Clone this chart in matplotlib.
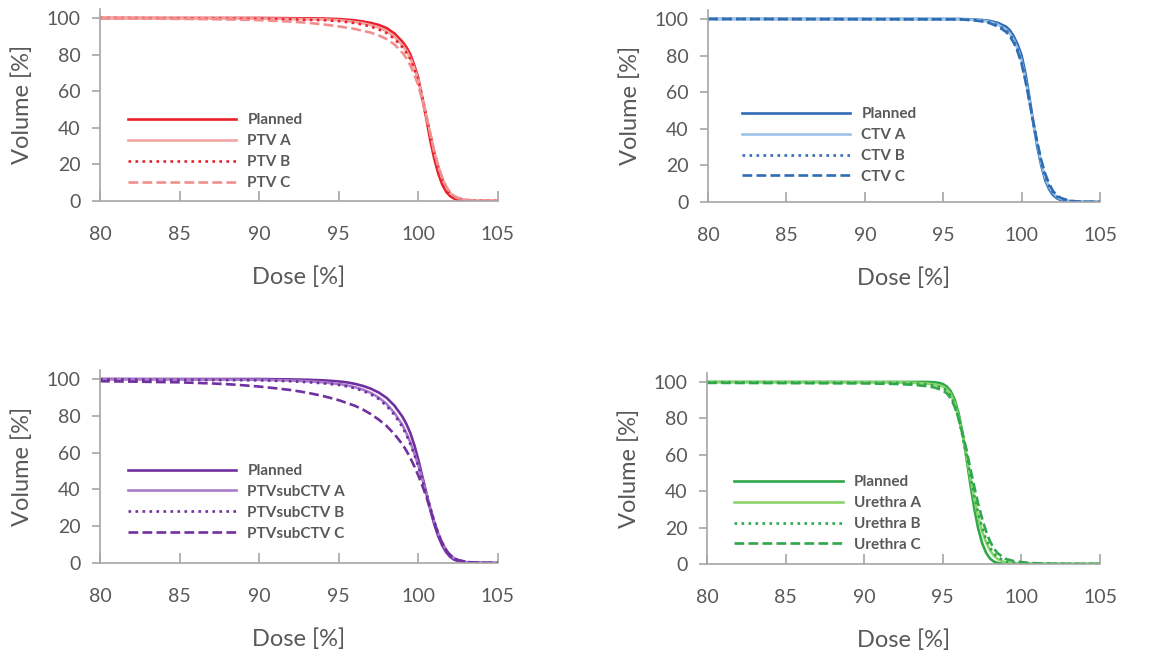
import matplotlib.pyplot as plt

plt.rcParams['font.family'] = ['Lato', 'DejaVu Sans']

# ---------------- datos ----------------
# PTV (arriba izquierda)
ptv_plan_x = [80, 90, 94, 95, 96, 96.5, 97, 97.5, 98, 98.5, 99, 99.25, 99.5, 99.75, 100, 100.25, 100.5,
              100.75, 101, 101.25, 101.5, 101.75, 102, 102.25, 102.5, 102.75, 103, 105]
ptv_plan_y = [100, 100, 99.7, 99.4, 98.7, 98.1, 97.3, 96.2, 94.5, 91.5, 87, 84, 80, 74, 67, 56, 45,
              33, 23, 15, 9, 5, 2.6, 1.3, 0.6, 0.2, 0, 0]
ptv_a_x = [80, 90, 94, 95, 96, 96.5, 97, 97.5, 98, 98.5, 99, 99.25, 99.5, 99.75, 100, 100.25, 100.5,
           100.75, 101, 101.25, 101.5, 101.75, 102, 102.25, 102.5, 103, 103.5, 104, 105]
ptv_a_y = [100, 99.7, 99.2, 98.8, 97.8, 97.1, 96.1, 94.8, 92.8, 89.8, 85, 82, 78, 72.5, 66, 57, 47,
           37, 27, 19, 12.5, 7.5, 4.3, 2.5, 1.5, 0.6, 0.25, 0.1, 0]
ptv_b_x = [80, 90, 94, 95, 96, 96.5, 97, 97.5, 98, 98.5, 99, 99.25, 99.5, 99.75, 100, 100.25, 100.5,
           100.75, 101, 101.25, 101.5, 101.75, 102, 102.25, 102.5, 103, 103.5, 104, 105]
ptv_b_y = [100, 99.5, 98.8, 98.3, 97.2, 96.4, 95.3, 93.8, 91.8, 88.6, 84, 81, 77.5, 72, 65.5, 56.5, 46,
           36, 26, 18, 11.5, 6.8, 3.8, 2.1, 1.2, 0.4, 0.2, 0.1, 0]
ptv_c_x = [80, 85, 88, 90, 92, 93, 94, 95, 96, 97, 97.5, 98, 98.5, 99, 99.25, 99.5, 99.75, 100, 100.25,
           100.5, 100.75, 101, 101.25, 101.5, 101.75, 102, 102.25, 102.5, 103, 103.5, 104, 105]
ptv_c_y = [99.8, 99.5, 99.2, 98.8, 98, 97.4, 96.5, 95.4, 94, 92, 90.5, 88.5, 85.5, 81, 78, 74, 69, 63, 55,
           46, 36.5, 27, 19, 12.5, 7.8, 4.6, 2.7, 1.6, 0.6, 0.25, 0.1, 0]

# CTV (arriba derecha)
ctv_plan_x = [80, 96, 97, 97.5, 98, 98.5, 99, 99.25, 99.5, 99.75, 100, 100.25, 100.5, 100.75, 101,
              101.25, 101.5, 101.75, 102, 102.25, 102.5, 103, 103.5, 105]
ctv_plan_y = [100, 100, 99.7, 99.4, 98.9, 97.8, 95.8, 93.8, 90.5, 86, 80, 70, 57, 43, 30,
              20, 12, 7, 3.8, 2, 1, 0.2, 0, 0]
ctv_a_x = [80, 96, 97, 97.5, 98, 98.5, 99, 99.25, 99.5, 99.75, 100, 100.25, 100.5, 100.75, 101,
           101.25, 101.5, 101.75, 102, 102.25, 102.5, 103, 103.5, 104, 105]
ctv_a_y = [100, 99.9, 99.5, 99.1, 98.3, 96.8, 94.2, 92, 88.5, 83.5, 77, 67, 55, 43, 31.5,
           21.5, 13.5, 8.3, 5, 2.8, 1.6, 0.5, 0.2, 0.1, 0]
ctv_b_x = [80, 96, 97, 97.5, 98, 98.5, 99, 99.25, 99.5, 99.75, 100, 100.25, 100.5, 100.75, 101,
           101.25, 101.5, 101.75, 102, 102.25, 102.5, 103, 103.5, 104, 105]
ctv_b_y = [100, 99.8, 99.4, 98.9, 98, 96.4, 93.8, 91.5, 88, 83, 76.5, 66.5, 55, 43.2, 32,
           22, 14, 8.7, 5.2, 3, 1.7, 0.6, 0.2, 0.1, 0]
ctv_c_x = [80, 96, 97, 97.5, 98, 98.5, 99, 99.25, 99.5, 99.75, 100, 100.25, 100.5, 100.75, 101,
           101.25, 101.5, 101.75, 102, 102.25, 102.5, 103, 103.5, 104, 105]
ctv_c_y = [100, 99.8, 99.2, 98.6, 97.6, 95.8, 93, 90.5, 87, 82, 75.5, 66, 55, 43.5, 32.5,
           23, 15.5, 10, 6, 3.6, 2.2, 0.8, 0.3, 0.1, 0]

# PTVsubCTV (abajo izquierda)
sub_plan_x = [80, 90, 92, 93, 94, 95, 95.5, 96, 96.5, 97, 97.5, 98, 98.5, 99, 99.25, 99.5, 99.75, 100,
              100.25, 100.5, 100.75, 101, 101.25, 101.5, 101.75, 102, 102.25, 102.5, 103, 103.5, 105]
sub_plan_y = [100, 100, 99.8, 99.6, 99.3, 98.7, 98.2, 97.4, 96.3, 94.8, 92.7, 89.8, 85.5, 79.5, 75.5, 70.5, 64, 56,
              47, 38, 29, 21, 14.5, 9.5, 5.8, 3.3, 1.8, 1, 0.3, 0.1, 0]
sub_a_x = [80, 90, 92, 93, 94, 95, 95.5, 96, 96.5, 97, 97.5, 98, 98.5, 99, 99.25, 99.5, 99.75, 100,
           100.25, 100.5, 100.75, 101, 101.25, 101.5, 101.75, 102, 102.25, 102.5, 103, 103.5, 104, 105]
sub_a_y = [100, 99.6, 99.2, 98.8, 98.2, 97.3, 96.6, 95.6, 94.3, 92.5, 90, 86.5, 81.5, 75, 70.5, 65.5, 59.5, 53,
           45.5, 38, 30, 22.5, 16, 11, 7, 4.3, 2.5, 1.5, 0.5, 0.2, 0.1, 0]
sub_b_x = [80, 90, 92, 93, 94, 95, 95.5, 96, 96.5, 97, 97.5, 98, 98.5, 99, 99.25, 99.5, 99.75, 100,
           100.25, 100.5, 100.75, 101, 101.25, 101.5, 101.75, 102, 102.25, 102.5, 103, 103.5, 104, 105]
sub_b_y = [99.8, 99.3, 98.8, 98.3, 97.7, 96.8, 96, 95, 93.6, 91.8, 89.2, 85.5, 80.5, 74, 69.5, 64.5, 58.8, 52.5,
           45.2, 37.8, 30, 22.5, 16, 11, 7, 4.2, 2.4, 1.4, 0.5, 0.2, 0.1, 0]
sub_c_x = [80, 82, 85, 87, 88, 89, 90, 91, 92, 93, 94, 95, 96, 96.5, 97, 97.5, 98, 98.5, 99, 99.25, 99.5,
           99.75, 100, 100.25, 100.5, 100.75, 101, 101.25, 101.5, 101.75, 102, 102.25, 102.5, 103, 103.5, 104, 105]
sub_c_y = [98.8, 98.6, 98.2, 97.6, 97.2, 96.6, 95.9, 95, 94, 92.6, 90.8, 88.5, 85.5, 83.5, 81, 78, 74.5, 70, 64.5, 61, 57,
           52.5, 47.5, 42, 36, 29, 22, 15.5, 10.5, 6.8, 4.2, 2.6, 1.6, 0.6, 0.25, 0.1, 0]

# Urethra (abajo derecha)
ure_plan_x = [80, 94, 94.5, 94.75, 95, 95.25, 95.5, 95.75, 96, 96.25, 96.5, 96.75, 97, 97.25, 97.5,
              97.75, 98, 98.25, 98.5, 99, 105]
ure_plan_y = [100, 100, 99.8, 99.5, 98.9, 97.5, 95, 90.5, 83, 72, 58.5, 44, 30.5, 19.5, 11.5,
              6.2, 3, 1.3, 0.5, 0, 0]
ure_a_x = [80, 92, 93, 94, 94.5, 95, 95.25, 95.5, 95.75, 96, 96.25, 96.5, 96.75, 97, 97.25, 97.5,
           97.75, 98, 98.25, 98.5, 99, 99.5, 100, 101, 105]
ure_a_y = [100, 99.8, 99.6, 99.1, 98.6, 97.5, 96, 93.5, 88.5, 81, 71, 60, 47.5, 36, 26, 18,
           12, 7.5, 4.5, 2.6, 0.8, 0.3, 0.1, 0, 0]
ure_b_x = [80, 92, 93, 94, 94.5, 95, 95.25, 95.5, 95.75, 96, 96.25, 96.5, 96.75, 97, 97.25, 97.5,
           97.75, 98, 98.25, 98.5, 99, 99.5, 100, 101, 105]
ure_b_y = [99.8, 99.5, 99.2, 98.7, 98, 96.8, 95.2, 92.5, 87.5, 80, 70.5, 60, 48.5, 37.5, 28, 20,
           13.5, 9, 5.8, 3.6, 1.4, 0.6, 0.3, 0.1, 0]
ure_c_x = [80, 90, 92, 93, 94, 94.5, 95, 95.25, 95.5, 95.75, 96, 96.25, 96.5, 96.75, 97, 97.25, 97.5,
           97.75, 98, 98.25, 98.5, 99, 99.5, 100, 100.5, 101, 102, 103, 105]
ure_c_y = [99.5, 99.2, 98.9, 98.5, 97.7, 96.9, 95.3, 93.8, 91, 86.5, 80, 72, 63, 52.5, 42.5, 33, 25,
           18, 12.5, 8.5, 5.8, 2.8, 1.6, 1, 0.6, 0.35, 0.1, 0, 0]

# ---------------- gráfico ----------------
fig = plt.figure(figsize=(11.67, 6.57), dpi=100)

paneles = [
    # (posicion, series, colores, nombres, ancla leyenda)
    ([0.0857, 0.6941, 0.3410, 0.2925],
     [(ptv_plan_x, ptv_plan_y), (ptv_a_x, ptv_a_y), (ptv_b_x, ptv_b_y), (ptv_c_x, ptv_c_y)],
     ['#E8212B', '#F4A3A3', '#E8212B', '#F38E8E'],
     ['Planned', 'PTV A', 'PTV B', 'PTV C'], (81.25, 52)),
    ([0.6067, 0.6926, 0.3359, 0.2925],
     [(ctv_plan_x, ctv_plan_y), (ctv_a_x, ctv_a_y), (ctv_b_x, ctv_b_y), (ctv_c_x, ctv_c_y)],
     ['#2F6DB5', '#9DC3E6', '#2F6DB5', '#2F6DB5'],
     ['Planned', 'CTV A', 'CTV B', 'CTV C'], (81.65, 56)),
    ([0.0857, 0.1431, 0.3410, 0.2940],
     [(sub_plan_x, sub_plan_y), (sub_a_x, sub_a_y), (sub_b_x, sub_b_y), (sub_c_x, sub_c_y)],
     ['#7030A0', '#A77BCA', '#7030A0', '#7030A0'],
     ['Planned', 'PTVsubCTV A', 'PTVsubCTV B', 'PTVsubCTV C'], (81.25, 58)),
    ([0.6058, 0.1416, 0.3368, 0.2909],
     [(ure_plan_x, ure_plan_y), (ure_a_x, ure_a_y), (ure_b_x, ure_b_y), (ure_c_x, ure_c_y)],
     ['#2EA84A', '#8CD46A', '#2EA84A', '#2EA84A'],
     ['Planned', 'Urethra A', 'Urethra B', 'Urethra C'], (81.25, 53)),
]
estilos = ['-', '-', ':', '--']
gris = '#595959'

for pos, series, colores, nombres, ancla in paneles:
    ax = fig.add_axes(pos)
    for (x, y), c, ls, nom in zip(series, colores, estilos, nombres):
        ax.plot(x, y, color=c, linestyle=ls, linewidth=1.9, label=nom)
    ax.set_xlim(80, 105)
    ax.set_ylim(0, 105)
    ax.set_xticks([80, 85, 90, 95, 100, 105])
    ax.set_yticks([0, 20, 40, 60, 80, 100])
    for s in ['top', 'right']:
        ax.spines[s].set_visible(False)
    for s in ['left', 'bottom']:
        ax.spines[s].set_color('#A6A6A6')
        ax.spines[s].set_linewidth(1.2)
    ax.tick_params(axis='x', direction='in', length=7, width=1.2, color='#A6A6A6',
                   labelsize=14, labelcolor=gris, pad=18)
    ax.tick_params(axis='y', direction='out', length=6, width=1.2, color='#A6A6A6',
                   labelsize=14, labelcolor=gris, pad=8)
    ax.set_xlabel('Dose [%]', fontsize=17, color=gris, labelpad=17)
    ax.set_ylabel('Volume [%]', fontsize=17, color=gris, labelpad=10)
    leg = ax.legend(loc='upper left', bbox_to_anchor=ancla, bbox_transform=ax.transData,
                    frameon=False, borderpad=0, handlelength=7.1, handletextpad=0.75,
                    labelspacing=0.45, prop={'weight': 'bold', 'size': 11})
    for t in leg.get_texts():
        t.set_color(gris)

plt.savefig('out.png', dpi=100)
